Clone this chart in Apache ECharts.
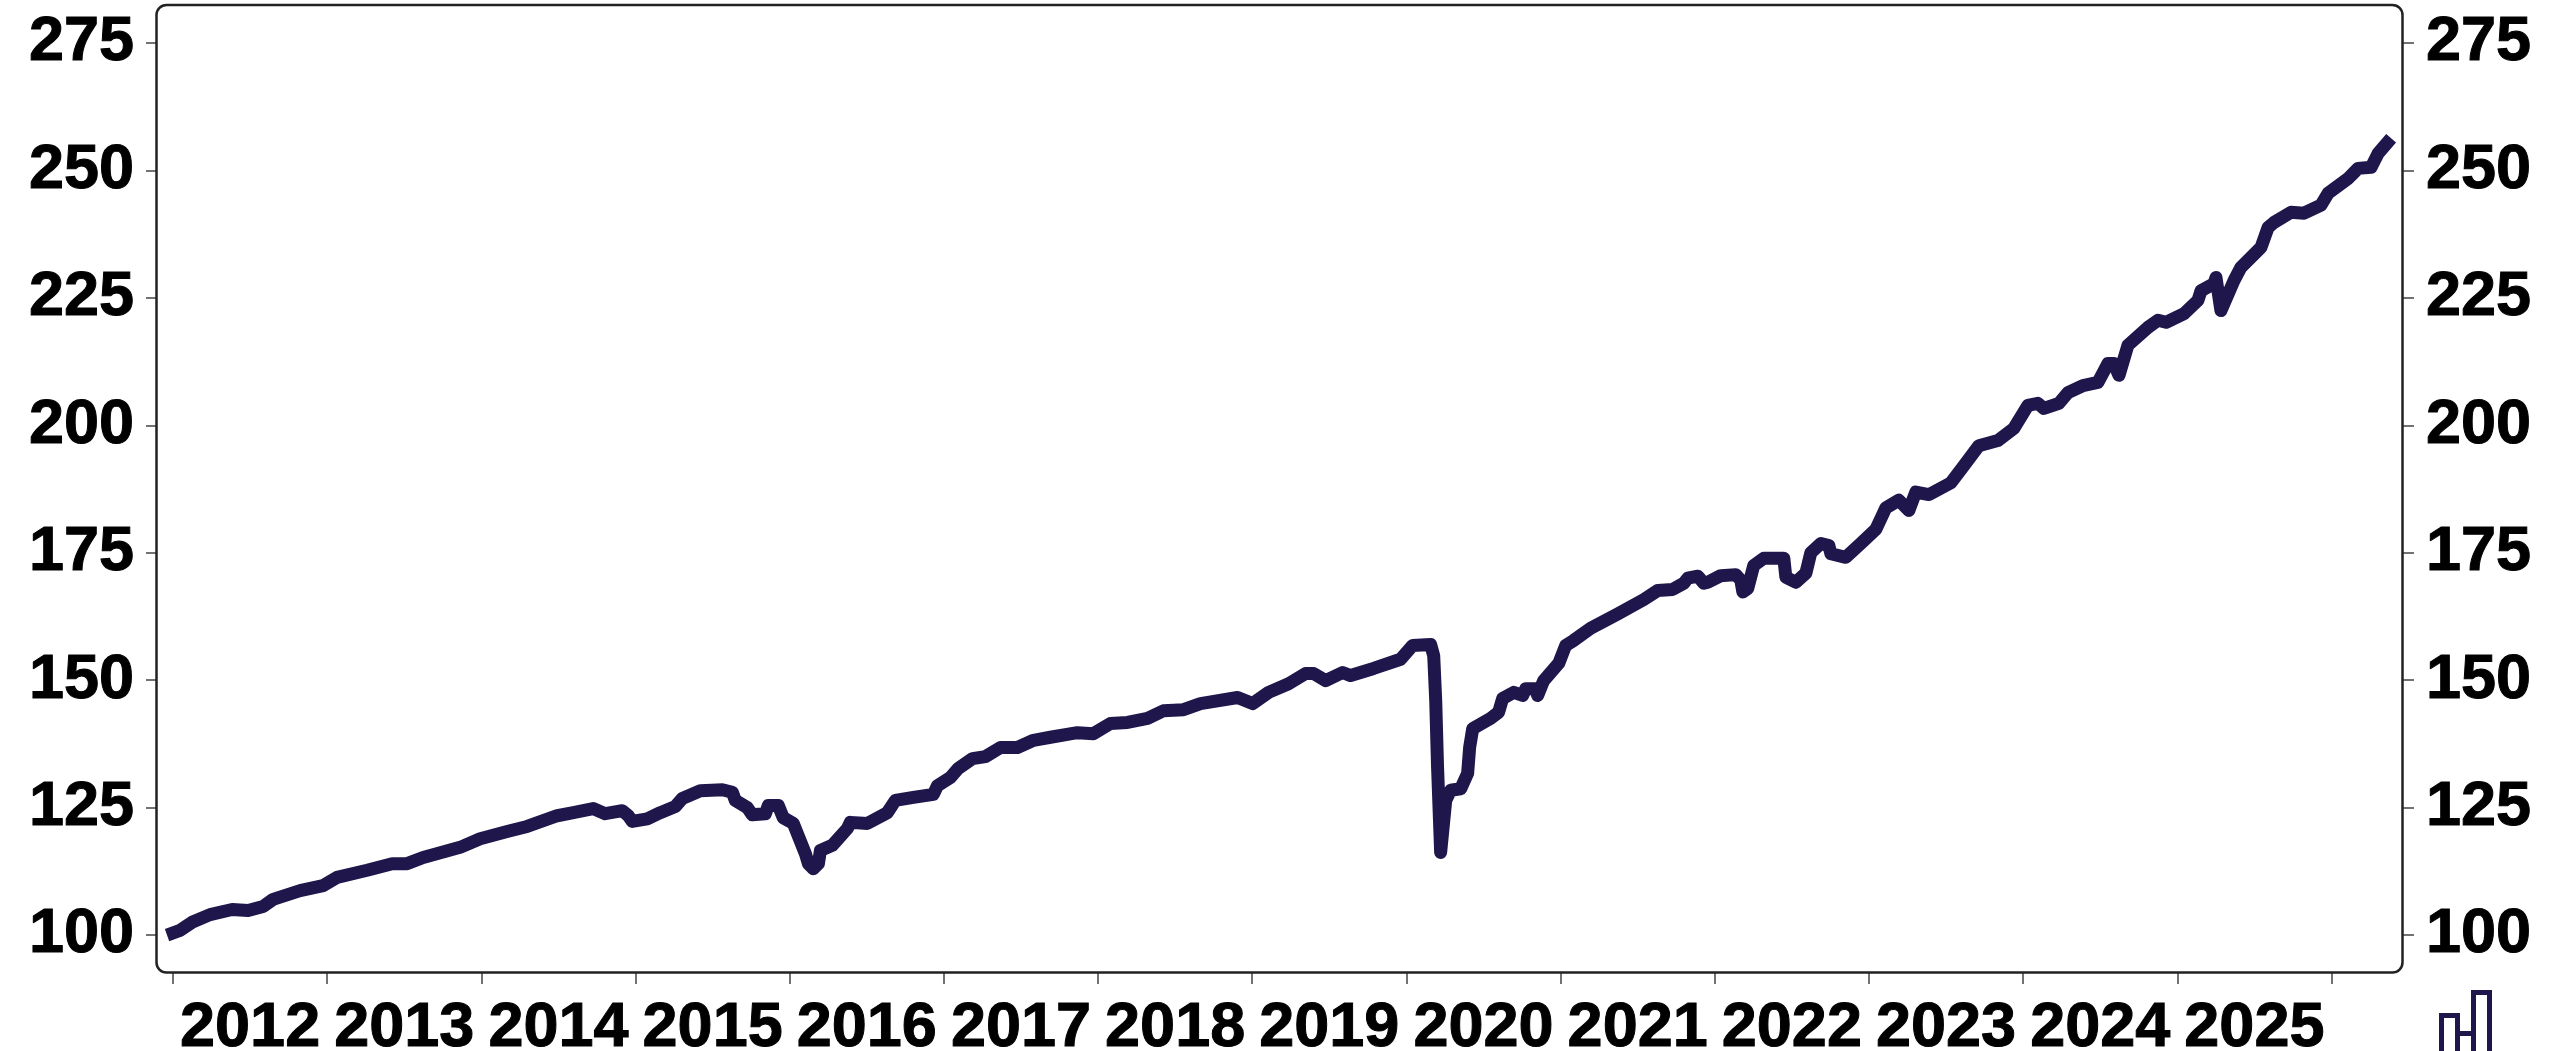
<!DOCTYPE html>
<html>
<head>
<meta charset="utf-8">
<style>html,body{margin:0;padding:0;background:#fff;overflow:hidden}#c{width:2552px;height:1051px}</style>
<script src="https://cdn.jsdelivr.net/npm/echarts@6/dist/echarts.min.js"></script>
</head>
<body>
<div id="c"></div>
<script>
const yearTicks = [2012,2013,2014,2015,2016,2017,2018,2019,2020,2021,2022,2023,2024,2025,2026];
const yearLabels = [2012,2013,2014,2015,2016,2017,2018,2019,2020,2021,2022,2023,2024,2025];
const valueTicks = [100,125,150,175,200,225,250,275];

const times = [
2011.961,2012.045,2012.123,2012.240,2012.383,2012.487,2012.584,2012.649,2012.824,2012.973,
2013.064,2013.259,2013.421,2013.518,2013.622,2013.862,2013.992,2014.167,2014.297,2014.492,
2014.596,2014.725,2014.803,2014.914,2014.953,2014.979,2015.076,2015.160,2015.258,2015.303,
2015.420,2015.563,2015.628,2015.647,2015.725,2015.757,2015.842,2015.861,2015.926,2015.958,
2016.023,2016.101,2016.121,2016.153,2016.186,2016.199,2016.276,2016.374,2016.393,2016.504,
2016.633,2016.685,2016.802,2016.932,2016.958,2017.042,2017.094,2017.185,2017.269,2017.367,
2017.477,2017.581,2017.691,2017.866,2017.970,2018.080,2018.191,2018.321,2018.424,2018.554,
2018.664,2018.905,2019.002,2019.106,2019.236,2019.346,2019.398,2019.476,2019.586,2019.638,
2019.787,2019.962,2020.040,2020.157,2020.177,2020.190,2020.202,2020.222,2020.255,2020.287,
2020.352,2020.397,2020.410,2020.430,2020.546,2020.598,2020.624,2020.696,2020.754,2020.774,
2020.838,2020.851,2020.890,2020.988,2021.033,2021.085,2021.195,2021.370,2021.539,2021.630,
2021.727,2021.799,2021.825,2021.890,2021.929,2021.955,2022.039,2022.136,2022.169,2022.182,
2022.214,2022.253,2022.318,2022.448,2022.461,2022.526,2022.591,2022.623,2022.688,2022.740,
2022.753,2022.850,2022.947,2023.045,2023.110,2023.194,2023.259,2023.304,2023.389,2023.531,
2023.616,2023.713,2023.836,2023.940,2024.031,2024.096,2024.135,2024.232,2024.291,2024.388,
2024.485,2024.550,2024.589,2024.622,2024.680,2024.810,2024.875,2024.927,2025.044,2025.134,
2025.154,2025.238,2025.251,2025.283,2025.368,2025.413,2025.543,2025.589,2025.628,2025.738,
2025.822,2025.932,2025.978,2026.108,2026.173,2026.257,2026.302,2026.387
];
const indexValues = [
100,100.9,102.5,104,105,104.8,105.6,107,108.7,109.7,
111.3,112.7,114,114,115.2,117.2,118.9,120.3,121.3,123.4,
124,124.8,123.8,124.4,123.4,122.3,122.8,124,125.2,126.8,
128.3,128.5,128,126.4,125,123.6,123.8,125.4,125.4,123,
121.9,116,114,113,114,116.6,117.6,120.9,122.1,121.9,
124,126.4,127,127.6,129.3,130.9,132.7,134.6,135,136.8,
136.8,138.2,138.8,139.7,139.5,141.5,141.7,142.5,144,144.2,
145.4,146.6,145.4,147.6,149.3,151.3,151.3,149.9,151.5,150.9,
152.3,154.1,156.8,157,154.8,146,132.9,116.2,126.4,128.4,
128.7,131.7,136.8,140.5,142.5,143.7,146.4,147.6,147,148.3,
148.3,147,149.9,153.3,156.8,157.8,160.2,163,165.8,167.6,
167.8,169,170,170.4,169,169.2,170.5,170.7,169.6,167.3,
168,172.5,173.9,173.9,170.2,169.2,171,175,176.8,176.4,
174.8,174.1,176.8,179.6,183.8,185.3,183.3,186.9,186.4,188.7,
192.1,196,197,199.4,203.9,204.3,203.3,204.3,206.4,207.8,
208.4,212.1,212.1,209.8,215.7,219.2,220.6,220.2,221.9,224.5,
226.4,227.8,229,222.5,228.4,231,234.9,238.8,239.8,241.8,
241.6,243.2,245.5,248.4,250.4,250.6,253.3,256.3
];

const lineColor = '#1f174b';
const textFont = {color:'#000',fontFamily:'"Liberation Sans",Arial,sans-serif',fontWeight:'bold',fontSize:63,
  textBorderColor:'#000',textBorderWidth:1};
const tickStyle = {length:11,lineStyle:{color:'#444',width:1.5}};

function yAxis(position){
  return {
    type:'value',position,min:92.55,max:282.45,
    splitLine:{show:false},axisLine:{show:false},
    axisTick:Object.assign({show:true,customValues:valueTicks},tickStyle),
    axisLabel:Object.assign({margin:23,padding:[4,0,0,0],customValues:valueTicks,showMinLabel:true,showMaxLabel:true},textFont)
  };
}

const chart = echarts.init(document.getElementById('c'),null,{renderer:'canvas'});
chart.setOption({
  animation:false,
  backgroundColor:'#fff',
  grid:{left:157,right:149,top:5,bottom:78,containLabel:false,outerBoundsMode:'none'},
  xAxis:{
    type:'value',min:2011.896,max:2026.464,
    splitLine:{show:false},axisLine:{show:false},
    axisTick:Object.assign({show:true,customValues:yearTicks},tickStyle),
    axisLabel:Object.assign({margin:24,customValues:yearLabels.map(y=>y+0.5),
      formatter:v=>String(Math.floor(v)),showMinLabel:true,showMaxLabel:true,hideOverlap:false},textFont)
  },
  yAxis:[yAxis('left'),yAxis('right')],
  series:[{
    type:'line',yAxisIndex:0,
    data:times.map((t,i)=>[t,indexValues[i]]),
    showSymbol:false,symbol:'none',smooth:false,sampling:false,clip:true,
    lineStyle:{color:lineColor,width:13,cap:'butt',join:'round'}
  }],
  graphic:[
    {type:'rect',z:50,silent:true,shape:{x:156.5,y:5,width:2246,height:967.5,r:10},
     style:{fill:'none',stroke:'#222',lineWidth:2.5}},
    {type:'rect',z:50,silent:true,shape:{x:2441.5,y:1015.5,width:16,height:60},
     style:{fill:'none',stroke:lineColor,lineWidth:5}},
    {type:'rect',z:50,silent:true,shape:{x:2473.5,y:992.5,width:16,height:80},
     style:{fill:'none',stroke:lineColor,lineWidth:5}},
    {type:'line',z:50,silent:true,shape:{x1:2459,y1:1033.5,x2:2472,y2:1033.5},
     style:{stroke:lineColor,lineWidth:5}}
  ]
});
</script>
</body>
</html>
